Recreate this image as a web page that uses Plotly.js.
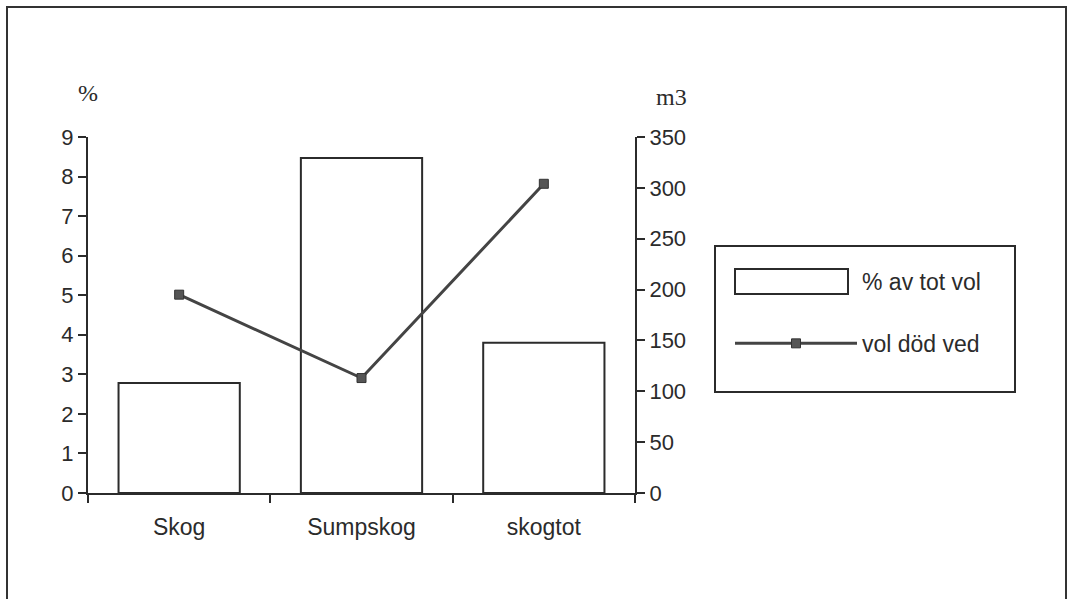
<!DOCTYPE html>
<html>
<head>
<meta charset="utf-8">
<script src="https://cdn.plot.ly/plotly-3.0.1.min.js"></script>
<style>html,body{margin:0;padding:0;background:#fff;}#chart{width:1069px;height:599px;}</style>
</head>
<body>
<div id="chart"></div>
<script>
// Data
const categories = ["Skog", "Sumpskog", "skogtot"];
const pctOfTotalVolume = [2.78, 8.47, 3.8];      // % av tot vol (left axis, %)
const deadWoodVolume = [195, 113, 304];          // vol död ved (right axis, m3)
const leftTicks = [0, 1, 2, 3, 4, 5, 6, 7, 8, 9];
const rightTicks = [0, 50, 100, 150, 200, 250, 300, 350];
const seriesNames = ["% av tot vol", "vol död ved"];
const leftAxisTitle = "%";
const rightAxisTitle = "m3";

const ink = "#2b2b2b";
const sans = "Liberation Sans, Arial, sans-serif";
const serif = "Liberation Serif, Times New Roman, serif";

const traces = [
  {
    type: "bar",
    name: seriesNames[0],
    x: categories,
    y: pctOfTotalVolume,
    width: 0.665,
    marker: {color: "#ffffff", line: {color: ink, width: 2}},
    legendgroup: "a"
  },
  {
    type: "scatter",
    mode: "lines+markers",
    name: seriesNames[1],
    x: categories,
    y: deadWoodVolume,
    yaxis: "y2",
    line: {color: "#444444", width: 3},
    marker: {symbol: "square", size: 9, color: "#555555", line: {color: "#333", width: 1}},
    legendgroup: "b"
  }
];

const tickFont = {family: sans, size: 22, color: ink};

const layout = {
  width: 1069,
  height: 599,
  paper_bgcolor: "#ffffff",
  plot_bgcolor: "rgba(0,0,0,0)",
  margin: {l: 88, r: 434, t: 137, b: 106},
  font: {family: sans, size: 22, color: ink},
  showlegend: true,
  legend: {
    x: (730 - 88) / 547,
    xanchor: "left",
    y: (493 - 260) / 356,
    yanchor: "top",
    bgcolor: "rgba(0,0,0,0)",
    borderwidth: 0,
    itemwidth: 122,
    traceorder: "grouped",
    tracegroupgap: 29,
    font: {family: sans, size: 23, color: ink}
  },
  xaxis: {
    type: "category",
    range: [-0.5, 2.5],
    showline: true,
    linecolor: ink,
    linewidth: 2,
    ticks: "outside",
    tickson: "boundaries",
    ticklen: 8,
    tickwidth: 2,
    tickcolor: ink,
    ticklabelstandoff: 12,
    showgrid: false,
    zeroline: false,
    tickfont: {family: sans, size: 23, color: ink}
  },
  yaxis: {
    range: [0, 9],
    tickvals: leftTicks,
    ticktext: leftTicks.map(String),
    showline: true,
    linecolor: ink,
    linewidth: 2,
    ticks: "outside",
    ticklen: 8,
    tickwidth: 2,
    tickcolor: ink,
    showgrid: false,
    zeroline: false,
    tickfont: tickFont
  },
  yaxis2: {
    overlaying: "y",
    side: "right",
    range: [0, 350],
    tickvals: rightTicks,
    ticktext: rightTicks.map(String),
    showline: true,
    linecolor: ink,
    linewidth: 2,
    ticks: "outside",
    ticklen: 8,
    tickwidth: 2,
    tickcolor: ink,
    showgrid: false,
    zeroline: false,
    tickfont: tickFont
  },
  shapes: [
    // outer frame
    {type: "rect", xref: "paper", yref: "paper",
     x0: (7 - 88) / 547, x1: (1066 - 88) / 547,
     y0: (493 - 640) / 356, y1: (493 - 7) / 356,
     line: {color: "#333", width: 2}, fillcolor: "rgba(0,0,0,0)", layer: "below"},
    // legend box
    {type: "rect", xref: "paper", yref: "paper",
     x0: (715 - 88) / 547, x1: (1015 - 88) / 547,
     y0: (493 - 392) / 356, y1: (493 - 246) / 356,
     line: {color: ink, width: 2}, fillcolor: "rgba(0,0,0,0)", layer: "below"}
  ],
  annotations: [
    {xref: "paper", yref: "paper", x: 0, y: (493 - 93) / 356, text: leftAxisTitle,
     showarrow: false, xanchor: "center", yanchor: "middle",
     font: {family: serif, size: 24, color: ink}},
    {xref: "paper", yref: "paper", x: (671 - 88) / 547, y: (493 - 97) / 356, text: rightAxisTitle,
     showarrow: false, xanchor: "center", yanchor: "middle",
     font: {family: serif, size: 24, color: ink}}
  ]
};

Plotly.newPlot("chart", traces, layout, {staticPlot: true, displayModeBar: false}).then(function (gd) {
  // widen the bar legend swatch to the wide outlined box of the original
  const items = gd.querySelectorAll(".legend .traces");
  if (items.length) {
    const p = items[0].querySelector(".legendpoints path");
    if (p) p.setAttribute("d", "M-61,-12.5H52V12.5H-61Z");
  }
});
</script>
</body>
</html>
